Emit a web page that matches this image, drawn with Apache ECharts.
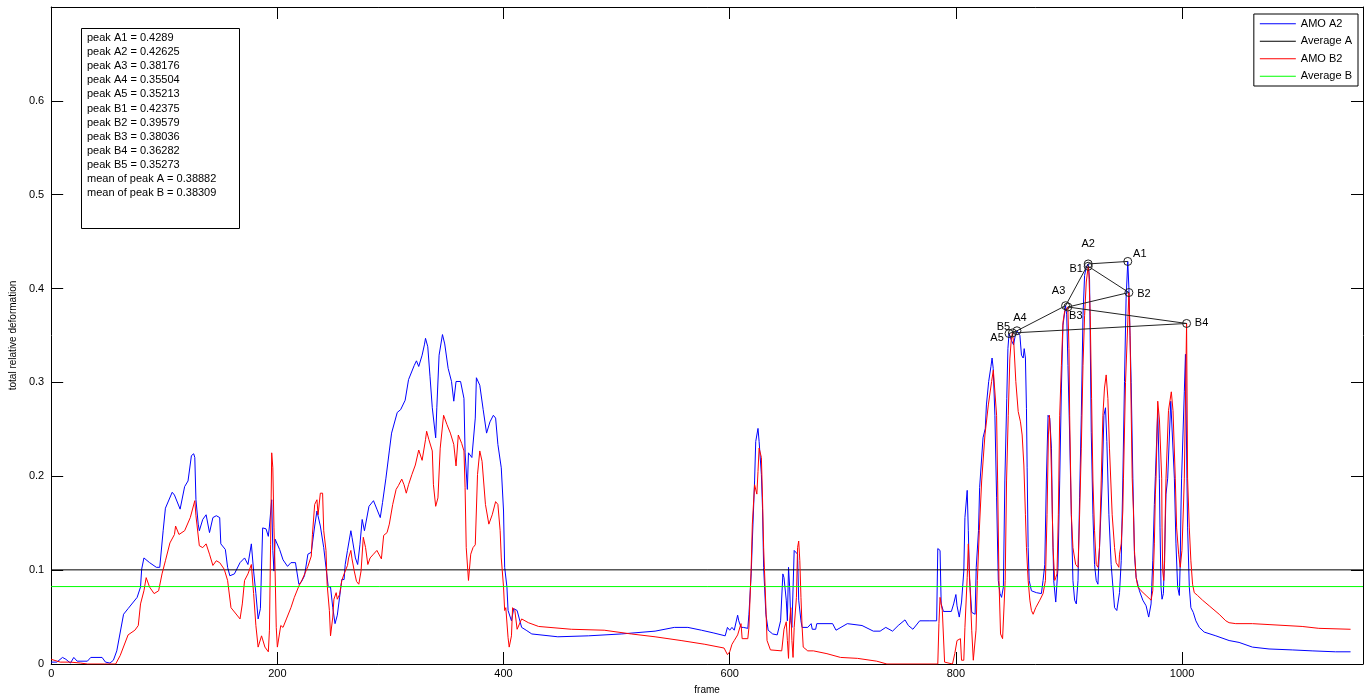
<!DOCTYPE html>
<html>
<head>
<meta charset="utf-8">
<title>total relative deformation</title>
<script src="https://cdn.jsdelivr.net/npm/echarts@6/dist/echarts.min.js"></script>
<style>
    html, body { margin: 0; padding: 0; background: #fff; }
    #main { width: 1371px; height: 700px; }
</style>
</head>
<body>
<div id="main"></div>
<script type="text/javascript">
    // axis ranges
    var xMax = 1160, xStep = 200;
    var yMax = 0.7, yStep = 0.1;

    // AMO A2 curve: [frame, total relative deformation]
    var amoA2 = [
        [0,0.002],[5,0.002],[10,0.007],[13,0.005],[17,0.001],[20,0.007],[23,0.003],[32,0.003],[35,0.007],[45,0.007],
        [48,0.002],[52,0.001],[55,0.004],[58,0.014],[64,0.053],[68,0.059],[76,0.071],[79,0.082],[80,0.101],[82,0.113],
        [87,0.108],[93,0.103],[96,0.103],[99,0.142],[101,0.166],[107,0.183],[109,0.180],[114,0.165],[118,0.189],[121,0.195],
        [124,0.222],[126,0.224],[127,0.220],[128,0.175],[130,0.149],[131,0.142],[134,0.154],[137,0.159],[140,0.140],[143,0.156],
        [146,0.158],[149,0.156],[150,0.128],[154,0.122],[156,0.103],[158,0.094],[162,0.096],[167,0.108],[171,0.113],[174,0.106],
        [177,0.128],[179,0.099],[181,0.075],[183,0.048],[185,0.059],[187,0.145],[190,0.144],[192,0.136],[193,0.147],[195,0.175],
        [196,0.121],[197,0.099],[198,0.133],[202,0.122],[205,0.111],[209,0.104],[212,0.108],[216,0.108],[219,0.085],[221,0.087],
        [224,0.094],[227,0.117],[230,0.119],[233,0.147],[235,0.163],[238,0.147],[241,0.124],[243,0.103],[245,0.082],[247,0.082],
        [249,0.060],[251,0.043],[253,0.052],[255,0.071],[257,0.090],[259,0.090],[260,0.106],[262,0.121],[265,0.142],[266,0.135],
        [269,0.113],[271,0.106],[273,0.127],[275,0.154],[277,0.142],[281,0.168],[285,0.174],[288,0.165],[291,0.156],[293,0.172],
        [296,0.198],[299,0.227],[301,0.246],[306,0.268],[309,0.271],[313,0.281],[316,0.303],[321,0.318],[323,0.323],[325,0.317],
        [328,0.329],[330,0.340],[331,0.347],[333,0.338],[335,0.306],[337,0.273],[340,0.241],[341,0.273],[343,0.329],[346,0.351],
        [348,0.341],[351,0.315],[354,0.301],[356,0.280],[358,0.301],[362,0.301],[365,0.283],[366,0.225],[368,0.186],[369,0.225],
        [372,0.220],[373,0.218],[375,0.262],[376,0.305],[379,0.297],[382,0.271],[385,0.246],[388,0.258],[391,0.265],[393,0.262],
        [395,0.234],[398,0.209],[400,0.163],[401,0.103],[403,0.082],[404,0.057],[407,0.046],[409,0.059],[412,0.057],[414,0.048],
        [416,0.039],[420,0.036],[425,0.032],[448,0.029],[475,0.030],[504,0.032],[534,0.035],[551,0.039],[563,0.039],[575,0.036],
        [586,0.033],[596,0.030],[598,0.039],[600,0.036],[602,0.039],[604,0.036],[607,0.052],[608,0.046],[610,0.039],[612,0.039],
        [616,0.038],[617,0.053],[619,0.096],[620,0.131],[622,0.195],[623,0.237],[625,0.251],[626,0.237],[628,0.202],[629,0.166],
        [630,0.103],[632,0.053],[634,0.036],[638,0.032],[642,0.031],[645,0.046],[647,0.096],[648,0.092],[650,0.068],[651,0.046],
        [652,0.103],[653,0.082],[654,0.046],[655,0.039],[657,0.121],[658,0.122],[660,0.117],[661,0.068],[663,0.046],[664,0.039],
        [669,0.039],[672,0.043],[673,0.037],[676,0.037],[677,0.043],[691,0.043],[694,0.036],[704,0.043],[717,0.041],[727,0.035],
        [733,0.035],[738,0.039],[744,0.035],[749,0.041],[755,0.047],[758,0.041],[762,0.037],[768,0.046],[777,0.046],[783,0.046],
        [784,0.123],[786,0.121],[787,0.064],[789,0.056],[796,0.056],[798,0.064],[800,0.074],[801,0.062],[803,0.050],[805,0.066],
        [807,0.099],[808,0.156],[810,0.185],[811,0.142],[812,0.092],[814,0.055],[817,0.053],[818,0.103],[820,0.142],[821,0.188],
        [824,0.241],[826,0.251],[827,0.276],[829,0.301],[831,0.317],[832,0.326],[833,0.315],[834.5,0.265],[836,0.177],[837.5,0.089],
        [839,0.075],[840.4,0.071],[842,0.082],[843.3,0.195],[845,0.283],[846,0.336],[847,0.35213],[849,0.345],[851,0.340],[852.5,0.350],
        [854,0.35504],[856.6,0.350],[858,0.329],[859.5,0.326],[860.4,0.336],[861.5,0.326],[862.4,0.272],[863,0.209],[863.9,0.124],[864.8,0.089],
        [866.8,0.078],[871.2,0.076],[875.6,0.075],[877.1,0.089],[878.6,0.106],[880,0.195],[881.5,0.265],[883,0.262],[884.5,0.230],[885.3,0.159],
        [886.5,0.089],[888.3,0.066],[889.4,0.068],[890.3,0.103],[891.8,0.195],[893.3,0.294],[894.7,0.361],[897,0.38176],[898,0.372],[899.1,0.318],
        [900.6,0.244],[902.1,0.159],[903.5,0.089],[905,0.068],[906.5,0.064],[908,0.089],[909.4,0.177],[910.9,0.265],[912.4,0.371],[913.8,0.414],
        [915.3,0.423],[917,0.42625],[918.2,0.410],[919.7,0.247],[921.2,0.159],[922.6,0.106],[924.1,0.089],[925.6,0.085],[927,0.124],[929.4,0.195],
        [930.9,0.265],[932.3,0.273],[933.5,0.237],[935.3,0.159],[937.3,0.106],[940.3,0.060],[942.3,0.057],[944.7,0.076],[946.2,0.110],[947.6,0.195],
        [949.1,0.301],[950.5,0.389],[952,0.4289],[953,0.400],[955,0.300],[956.5,0.198],[957.9,0.117],[959.4,0.092],[962.3,0.078],[965.3,0.068],
        [968.2,0.062],[970.5,0.050],[972.6,0.064],[974.1,0.110],[975.5,0.170],[976.4,0.200],[978.5,0.270],[979.9,0.198],[980.5,0.145],[981.4,0.082],
        [982.3,0.069],[983.5,0.075],[984.4,0.110],[985.8,0.181],[987.3,0.198],[990,0.280],[993.2,0.198],[994.6,0.128],[996.1,0.082],[997.6,0.073],
        [998.4,0.110],[999,0.163],[999.6,0.198],[1002,0.290],[1003,0.330],[1004.3,0.198],[1004.9,0.145],[1006.4,0.082],[1007.8,0.060],[1009.9,0.055],
        [1012.2,0.046],[1015.2,0.039],[1019.6,0.034],[1029.9,0.030],[1041.6,0.025],[1050.4,0.023],[1062.2,0.018],[1076.9,0.016],[1097.4,0.015],[1115,0.014],
        [1135.6,0.013],[1149,0.013]
    ];

    // AMO B2 curve: [frame, total relative deformation]
    var amoB2 = [
        [0,0.005],[8,0.002],[17,0.002],[26,0.001],[32,0.000],[47,0.000],[57,0.000],[61,0.009],[68,0.031],[74,0.036],
        [77,0.041],[79,0.064],[82,0.078],[84,0.092],[87,0.082],[91,0.075],[95,0.078],[98,0.096],[101,0.110],[105,0.129],
        [109,0.138],[110,0.147],[113,0.138],[118,0.142],[123,0.156],[127,0.174],[128,0.158],[131,0.126],[134,0.124],[137,0.128],
        [140,0.117],[143,0.105],[146,0.110],[149,0.108],[153,0.101],[156,0.089],[159,0.060],[167,0.048],[169,0.064],[171,0.089],
        [174,0.096],[177,0.106],[179,0.075],[181,0.041],[183,0.018],[186,0.030],[189,0.018],[192,0.013],[193,0.036],[194,0.127],
        [195,0.225],[196,0.209],[197,0.145],[198,0.099],[199,0.039],[200,0.018],[203,0.041],[205,0.039],[208,0.048],[212,0.060],
        [215,0.071],[219,0.083],[222,0.090],[227,0.104],[230,0.115],[231,0.138],[233,0.170],[235,0.175],[236,0.159],[238,0.182],
        [240,0.182],[241,0.142],[243,0.121],[244,0.085],[246,0.057],[247,0.030],[249,0.050],[250,0.069],[252,0.076],[253,0.069],
        [255,0.074],[257,0.089],[259,0.096],[262,0.105],[263,0.113],[265,0.121],[266,0.112],[268,0.099],[270,0.088],[272,0.085],
        [274,0.099],[276,0.135],[278,0.124],[280,0.106],[282,0.113],[285,0.117],[288,0.121],[292,0.112],[294,0.137],[297,0.140],
        [299,0.149],[302,0.170],[305,0.186],[307,0.190],[310,0.197],[312,0.191],[314,0.182],[316,0.191],[319,0.202],[322,0.212],
        [325,0.228],[328,0.217],[331,0.239],[332,0.248],[334,0.239],[337,0.227],[338,0.191],[340,0.168],[342,0.177],[344,0.230],
        [347,0.265],[350,0.255],[353,0.246],[356,0.234],[358,0.211],[360,0.244],[363,0.235],[365,0.227],[366,0.188],[367,0.124],
        [369,0.089],[371,0.117],[373,0.124],[375,0.127],[377,0.202],[379,0.227],[381,0.216],[384,0.170],[387,0.149],[390,0.159],
        [393,0.173],[395,0.170],[397,0.142],[398,0.113],[400,0.082],[401,0.057],[402,0.060],[404,0.028],[405,0.018],[407,0.030],
        [408,0.060],[410,0.057],[412,0.037],[416,0.048],[422,0.044],[431,0.040],[460,0.037],[489,0.036],[513,0.032],[534,0.029],
        [557,0.025],[578,0.021],[595,0.017],[598,0.010],[600,0.013],[602,0.021],[604,0.025],[607,0.031],[610,0.043],[611,0.027],
        [616,0.027],[617,0.039],[619,0.103],[620,0.149],[622,0.191],[624,0.181],[625,0.205],[626,0.230],[628,0.220],[629,0.177],
        [630,0.124],[632,0.060],[633,0.025],[636,0.015],[646,0.014],[648,0.037],[650,0.045],[651,0.025],[652,0.006],[653,0.046],
        [654,0.060],[655,0.025],[656,0.007],[657,0.039],[659,0.071],[660,0.124],[661,0.131],[662,0.110],[663,0.071],[664,0.040],
        [665,0.018],[669,0.014],[674,0.014],[686,0.011],[698,0.007],[713,0.006],[730,0.003],[739,0.000],[784,0.000],[785,0.043],
        [786,0.071],[788,0.057],[790,0.002],[797,0.000],[799,0.011],[801,0.025],[804,0.027],[805,0.004],[807,0.004],[808,0.039],
        [810,0.092],[811,0.128],[812.5,0.082],[814,0.036],[815.4,0.004],[817,0.002],[817.8,0.036],[819,0.089],[820.7,0.142],[822.8,0.195],
        [825.7,0.244],[828.7,0.276],[831.6,0.301],[833.1,0.313],[834.5,0.311],[836,0.265],[836.9,0.195],[838.1,0.089],[839.5,0.032],[841.3,0.027],
        [842.8,0.029],[843.6,0.089],[844.8,0.195],[846.3,0.265],[847.7,0.325],[849,0.346],[850,0.35273],[851.3,0.340],[853,0.301],[855.1,0.269],
        [857.1,0.258],[858.6,0.244],[860.1,0.212],[861.5,0.159],[862.4,0.124],[863.9,0.089],[865.4,0.068],[866.8,0.057],[868.3,0.053],[870.6,0.060],
        [874.2,0.068],[877.1,0.075],[879.2,0.089],[880.6,0.159],[881.8,0.244],[882.7,0.265],[883.6,0.244],[884.7,0.195],[885.9,0.124],[887.4,0.089],
        [888.3,0.092],[889.4,0.096],[890.6,0.159],[891.8,0.265],[893.3,0.318],[894.7,0.364],[896.2,0.376],[897.7,0.377],[899,0.38036],[900,0.336],
        [900.6,0.265],[902.1,0.159],[903.5,0.124],[905.9,0.106],[908,0.103],[909.4,0.159],[910.9,0.230],[912.4,0.318],[913.8,0.371],[915.3,0.407],
        [917,0.42375],[917.6,0.417],[918.8,0.371],[920,0.283],[921.2,0.195],[922.6,0.142],[924.1,0.106],[925.6,0.103],[927,0.124],[928.5,0.195],
        [930,0.265],[931.4,0.294],[932.9,0.308],[934.4,0.283],[935.8,0.230],[938.2,0.159],[940.3,0.124],[941.7,0.108],[944.1,0.103],[944.7,0.117],
        [946.2,0.128],[947.6,0.163],[948.2,0.198],[950,0.300],[953,0.39579],[954,0.350],[955.9,0.198],[957,0.163],[957.9,0.121],[959.4,0.092],
        [960.9,0.082],[963.8,0.078],[968.2,0.073],[972.6,0.068],[974.1,0.078],[975.5,0.128],[976.4,0.181],[977,0.198],[978.5,0.280],[980,0.260],
        [982,0.198],[982.3,0.145],[982.9,0.099],[983.8,0.089],[984.6,0.110],[985.2,0.163],[985.8,0.198],[988,0.270],[990.5,0.290],[992,0.270],
        [994,0.198],[995.2,0.145],[997,0.117],[998.4,0.103],[999.3,0.103],[999.9,0.121],[1001.1,0.163],[1002,0.198],[1004,0.36282],[1004.9,0.198],
        [1006.4,0.145],[1007.8,0.110],[1009.3,0.085],[1010.8,0.076],[1013.7,0.073],[1018.1,0.068],[1024,0.062],[1032.8,0.053],[1038.7,0.046],[1041.6,0.044],
        [1047.5,0.043],[1062.2,0.043],[1076.9,0.042],[1106.2,0.040],[1120.9,0.038],[1149,0.037]
    ];

    // averages (horizontal lines)
    var averageA = 0.1003;
    var averageB = 0.0825;

    // peaks
    var peakNamesA = ['A1', 'A2', 'A3', 'A4', 'A5'];
    var peakFramesA = [952, 917, 897, 854, 847];
    var peakValuesA = [0.4289, 0.42625, 0.38176, 0.35504, 0.35213];
    var peakNamesB = ['B1', 'B2', 'B3', 'B4', 'B5'];
    var peakFramesB = [917, 953, 899, 1004, 850];
    var peakValuesB = [0.42375, 0.39579, 0.38036, 0.36282, 0.35273];

    // label offsets of the peak names (pixels from the marker centre)
    var labelOffsetA = [[12, -7], [0, -20], [-7, -15], [3, -13], [-12, 4]];
    var labelOffsetB = [[-12, 3], [15, 1], [8, 9], [15, 0], [-9, -6]];

    function mean(arr) {
        var s = 0;
        for (var i = 0; i < arr.length; i++) s += arr[i];
        return s / arr.length;
    }

    function peakData(names, frames, values, offsets) {
        var out = [];
        for (var i = 0; i < names.length; i++) {
            out.push({
                name: names[i],
                value: [frames[i], values[i]],
                label: { offset: offsets[i] }
            });
        }
        return out;
    }

    // text box content
    var boxLines = [];
    for (var i = 0; i < peakNamesA.length; i++) boxLines.push('peak ' + peakNamesA[i] + ' = ' + peakValuesA[i]);
    for (var j = 0; j < peakNamesB.length; j++) boxLines.push('peak ' + peakNamesB[j] + ' = ' + peakValuesB[j]);
    boxLines.push('mean of peak A = ' + (+mean(peakValuesA).toFixed(5)));
    boxLines.push('mean of peak B = ' + (+mean(peakValuesB).toFixed(5)));

    var font = '"Liberation Sans", Arial, Helvetica, sans-serif';

    var myChart = echarts.init(document.getElementById('main'), null, { renderer: 'canvas' });

    var axisLine = { show: true, onZero: false, lineStyle: { color: '#000', width: 1 } };
    var axisTick = { show: true, inside: true, length: 12, lineStyle: { color: '#000', width: 1 } };

    var peakSeries = function (name, data) {
        return {
            name: name,
            type: 'line',
            xAxisIndex: 0,
            yAxisIndex: 0,
            data: data,
            symbol: 'circle',
            symbolSize: 8,
            showSymbol: true,
            z: 5,
            lineStyle: { color: '#222', width: 1 },
            itemStyle: { color: 'rgba(0,0,0,0)', borderColor: '#222', borderWidth: 1 },
            label: {
                show: true,
                position: 'inside',
                formatter: '{b}',
                color: '#000',
                fontFamily: font,
                fontSize: 11
            },
            emphasis: { disabled: true }
        };
    };

    var option = {
        animation: false,
        backgroundColor: '#fff',
        textStyle: { fontFamily: font },
        grid: { left: 47, right: 8, top: 7, bottom: 33, containLabel: false },
        legend: {
            data: ['AMO A2', 'Average A', 'AMO B2', 'Average B'],
            orient: 'vertical',
            right: 13,
            top: 14,
            icon: 'rect',
            itemWidth: 36,
            itemHeight: 1,
            itemGap: 4,
            padding: [3, 6, 3, 6],
            borderColor: '#000',
            borderWidth: 1,
            borderRadius: 0,
            backgroundColor: '#fff',
            textStyle: { fontFamily: font, fontSize: 11, color: '#000', lineHeight: 13.5 }
        },
        graphic: [
            {
                type: 'rect',
                left: 81,
                top: 28,
                shape: { width: 158, height: 200 },
                style: { fill: '#fff', stroke: '#000', lineWidth: 1 },
                z: 10
            },
            {
                type: 'text',
                left: 87,
                top: 31,
                style: {
                    text: boxLines.join('\n'),
                    fontFamily: font,
                    fontSize: 11,
                    lineHeight: 14.1,
                    fill: '#000'
                },
                z: 11
            }
        ],
        xAxis: [
            {
                type: 'value',
                min: 0,
                max: xMax,
                interval: xStep,
                position: 'bottom',
                name: 'frame',
                nameLocation: 'middle',
                nameGap: 21,
                nameTextStyle: { fontFamily: font, fontSize: 10, color: '#000' },
                axisLine: axisLine,
                axisTick: axisTick,
                axisLabel: {
                    color: '#000', fontSize: 11, fontFamily: font, margin: 4, showMaxLabel: false,
                    formatter: function (v) { return String(v); }
                },
                splitLine: { show: false }
            },
            {
                type: 'value',
                min: 0,
                max: xMax,
                interval: xStep,
                position: 'top',
                axisLine: axisLine,
                axisTick: axisTick,
                axisLabel: { show: false },
                splitLine: { show: false }
            }
        ],
        yAxis: [
            {
                type: 'value',
                min: 0,
                max: yMax,
                interval: yStep,
                position: 'left',
                name: 'total relative deformation',
                nameLocation: 'middle',
                nameGap: 31,
                nameTextStyle: { fontFamily: font, fontSize: 10, color: '#000' },
                axisLine: axisLine,
                axisTick: axisTick,
                axisLabel: {
                    color: '#000', fontSize: 11, fontFamily: font, margin: 7, showMaxLabel: false,
                    formatter: function (v) { return String(+v.toFixed(1)); }
                },
                splitLine: { show: false }
            },
            {
                type: 'value',
                min: 0,
                max: yMax,
                interval: yStep,
                position: 'right',
                axisLine: axisLine,
                axisTick: axisTick,
                axisLabel: { show: false },
                splitLine: { show: false }
            }
        ],
        series: [
            {
                name: 'AMO A2',
                type: 'line',
                data: amoA2,
                symbol: 'none',
                showSymbol: false,
                lineStyle: { color: '#0000ff', width: 1 },
                itemStyle: { color: '#0000ff' },
                z: 2
            },
            {
                name: 'Average A',
                type: 'line',
                data: [[0, averageA], [xMax, averageA]],
                symbol: 'none',
                lineStyle: { color: '#000', width: 1 },
                itemStyle: { color: '#000' },
                z: 2
            },
            {
                name: 'AMO B2',
                type: 'line',
                data: amoB2,
                symbol: 'none',
                showSymbol: false,
                lineStyle: { color: '#ff0000', width: 1 },
                itemStyle: { color: '#ff0000' },
                z: 3
            },
            {
                name: 'Average B',
                type: 'line',
                data: [[0, averageB], [xMax, averageB]],
                symbol: 'none',
                lineStyle: { color: '#00ff00', width: 1 },
                itemStyle: { color: '#00ff00' },
                z: 3
            },
            peakSeries('peaks A', peakData(peakNamesA, peakFramesA, peakValuesA, labelOffsetA)),
            peakSeries('peaks B', peakData(peakNamesB, peakFramesB, peakValuesB, labelOffsetB))
        ]
    };

    myChart.setOption(option);
</script>
</body>
</html>
